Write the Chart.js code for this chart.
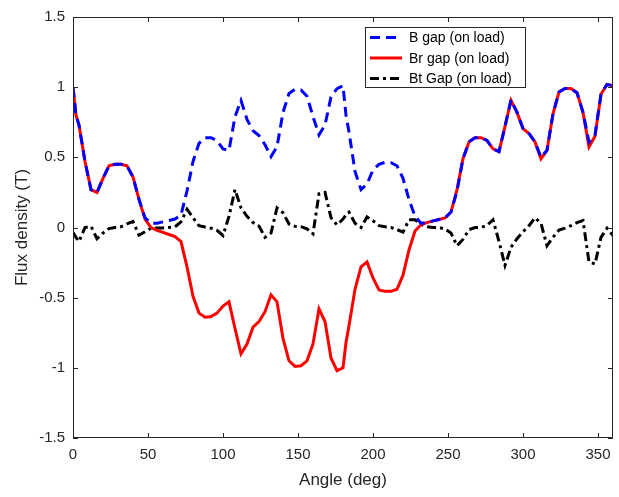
<!DOCTYPE html>
<html><head><meta charset="utf-8">
<script src="https://cdn.jsdelivr.net/npm/chart.js@4"></script>
<style>html,body{margin:0;padding:0;background:#fff}#wrap{width:619px;height:497px;position:relative}</style>
</head><body><div id="wrap"><canvas id="c" width="619" height="497"></canvas></div>
<script>
const angles = [0,2,4,8,12,16,20,24,28,32,36,40,44,48,52,56,60,64,68,72,76,80,84,88,92,96,100,104,108,112,116,120,124,128,132,136,140,144,148,152,156,160,164,168,172,176,180,182,184,188,192,196,200,204,208,212,216,220,224,228,232,236,240,244,248,252,256,260,264,268,272,276,280,284,288,292,296,300,304,308,312,316,320,324,328,332,336,340,344,348,352,356,360];

const bGap = [1.0,0.80,0.73,0.47,0.27,0.25,0.35,0.44,0.45,0.45,0.44,0.36,0.20,0.07,0.03,0.03,0.04,0.05,0.06,0.09,0.26,0.47,0.60,0.64,0.64,0.62,0.56,0.55,0.79,0.905,0.77,0.69,0.655,0.59,0.505,0.575,0.82,0.955,0.985,0.98,0.935,0.79,0.66,0.73,0.93,0.99,1.01,0.80,0.68,0.40,0.27,0.31,0.41,0.45,0.464,0.462,0.44,0.35,0.20,0.08,0.03,0.037,0.047,0.057,0.068,0.11,0.26,0.49,0.61,0.64,0.64,0.62,0.56,0.54,0.72,0.91,0.82,0.705,0.67,0.61,0.50,0.55,0.81,0.965,0.99,0.99,0.96,0.82,0.61,0.66,0.95,1.02,1.01];

const brGap = [1.0,0.80,0.73,0.47,0.27,0.25,0.35,0.44,0.45,0.45,0.44,0.36,0.20,0.06,0.0,-0.02,-0.035,-0.05,-0.065,-0.10,-0.28,-0.49,-0.61,-0.64,-0.635,-0.61,-0.56,-0.53,-0.72,-0.90,-0.83,-0.71,-0.67,-0.60,-0.48,-0.53,-0.79,-0.95,-0.99,-0.985,-0.95,-0.83,-0.58,-0.67,-0.93,-1.02,-1.0,-0.82,-0.70,-0.44,-0.28,-0.245,-0.36,-0.445,-0.455,-0.455,-0.44,-0.34,-0.16,-0.025,0.02,0.035,0.047,0.057,0.068,0.11,0.27,0.49,0.61,0.64,0.64,0.62,0.56,0.54,0.72,0.905,0.82,0.705,0.67,0.61,0.49,0.55,0.81,0.965,0.99,0.99,0.96,0.82,0.575,0.65,0.95,1.02,1.01];

const btGap = [-0.035,-0.07,-0.10,0.0,0.008,-0.08,-0.04,-0.008,0.0,0.005,0.025,0.043,-0.055,-0.03,-0.005,-0.003,-0.003,0.0,0.005,0.04,0.13,0.07,0.013,0.003,-0.005,-0.02,-0.057,0.08,0.27,0.14,0.08,0.035,0.01,-0.07,-0.04,0.14,0.105,0.025,0.008,0.006,-0.01,-0.045,0.24,0.25,0.07,0.018,0.06,0.09,0.11,0.03,0.0,0.075,0.048,0.013,0.006,0.0,-0.015,-0.033,0.055,0.055,0.022,0.006,0.0,0.0,-0.01,-0.04,-0.13,-0.085,-0.015,0.0,0.0,0.015,0.055,-0.10,-0.27,-0.14,-0.08,-0.03,0.013,0.07,0.03,-0.13,-0.07,-0.018,-0.005,0.013,0.035,0.05,-0.245,-0.26,-0.07,-0.005,-0.057];

const xTicks = [0,50,100,150,200,250,300,350];
const yTicks = [-1.5,-1,-0.5,0,0.5,1,1.5];
const yTickLabels = ['-1.5','-1','-0.5','0','0.5','1','1.5'];
const seriesNames = ['B gap (on load)','Br gap (on load)','Bt Gap (on load)'];

const AX = '#262626';
const FONT = "'Liberation Sans', Arial, Helvetica, sans-serif";

function pts(vals){ return angles.map((a,i)=>({x:a,y:vals[i]})); }

const boxTicks = {
  id:'boxTicks',
  afterDraw(chart){
    const {ctx, chartArea:ca, scales:{x,y}} = chart;
    ctx.save();
    ctx.strokeStyle = AX; ctx.lineWidth = 1;
    ctx.beginPath();
    ctx.rect(Math.round(ca.left)+0.5, Math.round(ca.top)+0.5, Math.round(ca.right-ca.left)-1, Math.round(ca.bottom-ca.top)-1);
    ctx.stroke();
    const L = 5;
    ctx.beginPath();
    xTicks.forEach(v=>{
      const px = Math.round(x.getPixelForValue(v))+0.5;
      ctx.moveTo(px, ca.bottom); ctx.lineTo(px, ca.bottom-L);
      ctx.moveTo(px, ca.top); ctx.lineTo(px, ca.top+L);
    });
    yTicks.forEach(v=>{
      const py = Math.round(y.getPixelForValue(v))+0.5;
      ctx.moveTo(ca.left, py); ctx.lineTo(ca.left+L, py);
      ctx.moveTo(ca.right, py); ctx.lineTo(ca.right-L, py);
    });
    ctx.stroke();
    // legend
    const bx = 365.5, by = 27.5, bw = 160, bh = 60;
    ctx.fillStyle = '#fff';
    ctx.fillRect(bx, by, bw, bh);
    ctx.strokeStyle = AX;
    ctx.setLineDash([]);
    ctx.strokeRect(bx, by, bw, bh);
    chart.data.datasets.forEach((ds,i)=>{
      const yy = 37.5 + i*20.5;
      ctx.save();
      ctx.strokeStyle = ds.borderColor;
      ctx.lineWidth = ds.borderWidth;
      ctx.setLineDash(ds.borderDash || []);
      ctx.beginPath(); ctx.moveTo(370, yy); ctx.lineTo(402, yy); ctx.stroke();
      ctx.restore();
      ctx.fillStyle = '#000';
      ctx.font = '14px ' + FONT;
      ctx.textAlign = 'left'; ctx.textBaseline = 'middle';
      ctx.fillText(ds.label, 409, yy+1);
    });
    ctx.restore();
  }
};

new Chart(document.getElementById('c'), {
  type:'line',
  data:{
    datasets:[
      {label:seriesNames[0], data:pts(bGap), borderColor:'#0000ff', borderWidth:3, borderDash:[10,6], pointRadius:0, tension:0, fill:false},
      {label:seriesNames[1], data:pts(brGap), borderColor:'#ff0000', borderWidth:3, pointRadius:0, tension:0, fill:false},
      {label:seriesNames[2], data:pts(btGap), borderColor:'#000000', borderWidth:3, borderDash:[9,4,3,4], pointRadius:0, tension:0, fill:false}
    ]
  },
  options:{
    responsive:false, animation:false,
    layout:{padding:{top:17, right:6, left:0, bottom:0}},
    plugins:{legend:{display:false}, tooltip:{enabled:false}},
    scales:{
      x:{type:'linear', min:0, max:360,
        afterBuildTicks(s){ s.ticks = xTicks.map(v=>({value:v})); },
        afterFit(s){ s.height = 59; },
        grid:{display:false, drawTicks:false}, border:{display:false},
        ticks:{padding:8, color:AX, font:{family:FONT, size:15}, maxRotation:0, autoSkip:false, callback:(v)=>String(v)},
        title:{display:true, text:'Angle (deg)', color:AX, font:{family:FONT, size:17}, padding:{top:0, bottom:6}}
      },
      y:{type:'linear', min:-1.5, max:1.5,
        afterBuildTicks(s){ s.ticks = yTicks.map(v=>({value:v})); },
        afterFit(s){ s.width = 73; },
        grid:{display:false, drawTicks:false}, border:{display:false},
        ticks:{padding:8, color:AX, font:{family:FONT, size:15}, autoSkip:false, callback:(v)=>yTickLabels[yTicks.indexOf(v)] ?? String(v)},
        title:{display:true, text:'Flux density (T)', color:AX, font:{family:FONT, size:17}, padding:{top:12, bottom:0}}
      }
    }
  },
  plugins:[boxTicks]
});
</script></body></html>
